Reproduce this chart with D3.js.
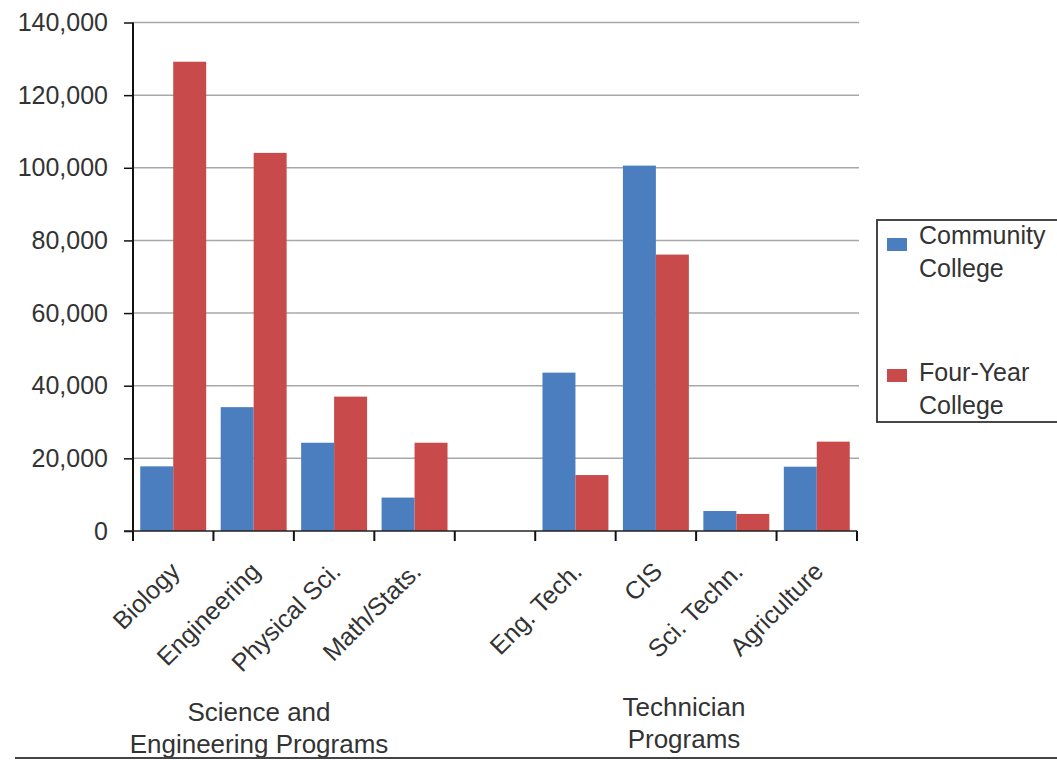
<!DOCTYPE html>
<html>
<head>
<meta charset="utf-8">
<script src="https://cdn.jsdelivr.net/npm/d3@7"></script>
<style>
  html, body { margin: 0; padding: 0; background: #fff; }
  svg { display: block; font-family: "Liberation Sans", Arial, sans-serif; }
</style>
</head>
<body>
<svg id="chart" width="1057" height="760"></svg>
<script>
// ---- data ----
const categories = ["Biology", "Engineering", "Physical Sci.", "Math/Stats.", "", "Eng. Tech.", "CIS", "Sci. Techn.", "Agriculture"];
const seriesNames = ["Community College", "Four-Year College"];
const communityCollege = [17800, 34100, 24300, 9200, null, 43600, 100600, 5500, 17700];
const fourYearCollege  = [129200, 104100, 37000, 24300, null, 15400, 76100, 4700, 24600];
const yTicks = [0, 20000, 40000, 60000, 80000, 100000, 120000, 140000];
const groupLabels = [
  { lines: ["Science and", "Engineering Programs"], cx: 259, y0: 721 },
  { lines: ["Technician", "Programs"], cx: 684, y0: 716 }
];
const legendLines = [["Community", "College"], ["Four-Year", "College"]];
const colors = ["#4A7EBF", "#C84A4A"];

// ---- layout ----
const svg = d3.select("#chart");
const plot = { left: 133, right: 857, top: 22.5, bottom: 531 };

const x = d3.scaleBand().domain(d3.range(categories.length)).range([plot.left, plot.right]).padding(0);
const xs = d3.scaleBand().domain([0, 1]).range([0, x.bandwidth()]).paddingInner(0).paddingOuter(0.22);
const y = d3.scaleLinear().domain([0, 140000]).range([plot.bottom, plot.top]);

const textColor = "#333";

// gridlines
svg.append("g").selectAll("line").data(yTicks.filter(d => d > 0)).join("line")
  .attr("x1", plot.left).attr("x2", plot.right + 2)
  .attr("y1", d => y(d)).attr("y2", d => y(d))
  .attr("stroke", "#a8a8a8").attr("stroke-width", 1.5);

// bars
const series = [communityCollege, fourYearCollege];
series.forEach((vals, si) => {
  svg.append("g").selectAll("rect")
    .data(vals.map((v, i) => ({ v, i })).filter(d => d.v != null))
    .join("rect")
    .attr("x", d => x(d.i) + xs(si))
    .attr("width", xs.bandwidth())
    .attr("y", d => y(d.v))
    .attr("height", d => y(0) - y(d.v))
    .attr("fill", colors[si]);
});

// y axis
const yAxis = d3.axisLeft(y).tickValues(yTicks).tickSize(9).tickPadding(16)
  .tickFormat(d3.format(","));
const gy = svg.append("g").attr("transform", `translate(${plot.left},0)`).call(yAxis);
gy.select(".domain").attr("stroke", "#111").attr("stroke-width", 2)
  .attr("d", `M0,${plot.top}V${plot.bottom + 10}`);
gy.selectAll(".tick line").attr("stroke", "#111").attr("stroke-width", 1.5);
gy.selectAll(".tick text").attr("font-size", 25).attr("fill", textColor)
  .attr("font-family", "'Liberation Sans', Arial, sans-serif");

// x axis baseline + boundary ticks
svg.append("line").attr("x1", plot.left - 9).attr("x2", plot.right)
  .attr("y1", y(0)).attr("y2", y(0)).attr("stroke", "#222").attr("stroke-width", 1.5);
const boundaries = d3.range(categories.length + 1).map(i => i < categories.length ? x(i) : x(categories.length - 1) + x.bandwidth());
svg.append("g").selectAll("line").data(boundaries.slice(1)).join("line")
  .attr("x1", d => d).attr("x2", d => d)
  .attr("y1", y(0)).attr("y2", y(0) + 10)
  .attr("stroke", "#111").attr("stroke-width", 2);

// category labels
svg.append("g").selectAll("text").data(categories.map((c, i) => ({ c, i })).filter(d => d.c))
  .join("text")
  .attr("transform", d => `translate(${x(d.i) + x.bandwidth() / 2 + 8},${plot.bottom + 42}) rotate(-45)`)
  .attr("text-anchor", "end")
  .attr("font-size", 25)
  .attr("fill", textColor)
  .text(d => d.c);

// group labels
groupLabels.forEach(g => {
  const t = svg.append("text").attr("text-anchor", "middle").attr("font-size", 26).attr("fill", textColor);
  g.lines.forEach((ln, k) => {
    t.append("tspan").attr("x", g.cx).attr("y", g.y0 + k * 32).text(ln);
  });
});

// legend
const lg = svg.append("g");
lg.append("rect").attr("x", 877).attr("y", 220).attr("width", 200).attr("height", 202)
  .attr("fill", "#fff").attr("stroke", "#333").attr("stroke-width", 1.8);
const swatchY = [238, 369];
const textY = [244, 381];
legendLines.forEach((lines, i) => {
  lg.append("rect").attr("x", 887).attr("y", swatchY[i]).attr("width", 20).attr("height", 13).attr("fill", colors[i]);
  const t = lg.append("text").attr("font-size", 25).attr("fill", textColor);
  lines.forEach((ln, k) => {
    t.append("tspan").attr("x", 919).attr("y", textY[i] + k * 33).text(ln);
  });
});

// bottom rule
svg.append("line").attr("x1", 15).attr("x2", 1057).attr("y1", 758).attr("y2", 758)
  .attr("stroke", "#444").attr("stroke-width", 2);
</script>
</body>
</html>
